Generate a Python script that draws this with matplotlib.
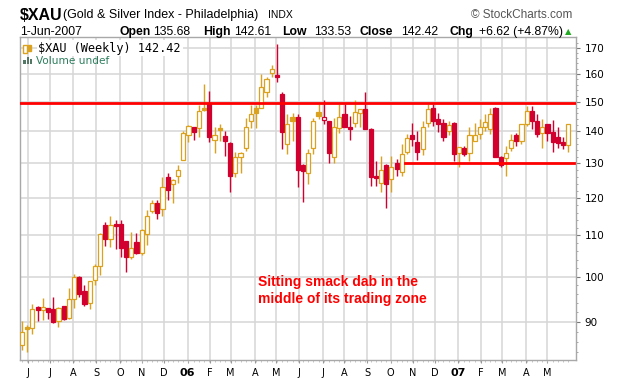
import numpy as np
import pandas as pd
import matplotlib
matplotlib.use("Agg")
import matplotlib.pyplot as plt
from matplotlib.patches import Rectangle
from matplotlib.ticker import FixedLocator, NullFormatter

# weekly bars, $XAU, week ending Friday
weeks = pd.date_range("2005-05-27", periods=106, freq="W-FRI")

opens = [85.3, 89.0, 88.8, 93.2, 92.6, 92.9, 92.7, 90.1, 93.3, 90.9,
         95.0, 100.0, 96.6, 94.0, 99.1, 102.5, 112.6, 109.2, 113.0, 113.0,
         108.5, 104.6, 108.3, 105.6, 110.4, 116.4, 118.6, 117.0, 125.9, 124.0,
         126.3, 131.1, 138.7, 141.5, 141.2, 147.8, 149.4, 137.3, 141.2, 138.6,
         136.4, 127.1, 132.0, 134.7, 143.3, 147.8, 148.0, 153.3, 160.2, 159.7,
         152.7, 136.0, 144.9, 144.9, 129.6, 127.1, 134.7, 146.6, 143.7, 143.3,
         132.0, 141.2, 145.8, 141.3, 142.9, 146.0, 147.5, 140.9, 126.4, 124.1,
         129.6, 125.4, 130.0, 127.4, 133.6, 139.0, 136.7, 134.4, 142.9, 148.0,
         144.1, 142.9, 140.3, 142.9, 133.1, 134.6, 133.2, 137.1, 139.2, 141.4,
         140.8, 148.0, 132.1, 131.6, 134.7, 138.8, 136.8, 142.5, 146.9, 143.3,
         139.4, 142.4, 139.7, 138.1, 136.6, 135.68]
highs = [90.1, 89.3, 93.9, 93.3, 95.2, 92.9, 95.3, 93.2, 93.4, 97.4,
         100.7, 100.2, 98.0, 99.0, 102.9, 110.6, 113.4, 115.2, 114.1, 114.1,
         108.5, 110.8, 110.7, 111.6, 116.7, 119.3, 119.5, 126.1, 127.1, 125.3,
         129.6, 140.3, 142.0, 141.6, 148.9, 156.4, 153.9, 141.4, 142.5, 140.3,
         136.5, 133.4, 133.4, 144.4, 148.9, 148.9, 159.8, 158.7, 163.3, 171.4,
         153.3, 145.8, 146.0, 145.8, 129.7, 134.4, 144.5, 149.1, 150.7, 143.5,
         144.4, 149.2, 149.2, 145.1, 150.6, 147.6, 153.3, 141.0, 130.6, 132.4,
         129.7, 132.4, 131.4, 136.0, 139.2, 142.9, 140.3, 143.5, 149.2, 149.2,
         146.0, 144.1, 143.3, 143.0, 135.1, 135.5, 141.4, 142.7, 144.1, 145.9,
         148.0, 148.1, 132.4, 135.5, 139.2, 139.4, 142.6, 148.6, 148.6, 145.9,
         144.1, 142.5, 143.7, 141.3, 138.1, 142.61]
lows = [84.3, 84.0, 87.6, 90.2, 90.5, 90.7, 89.8, 89.0, 90.4, 90.7,
        93.0, 95.3, 93.3, 92.7, 98.0, 100.3, 107.4, 107.2, 106.7, 104.6,
        101.0, 104.2, 105.3, 105.2, 107.5, 115.8, 114.3, 115.2, 119.5, 118.5,
        124.1, 130.9, 136.5, 137.3, 138.1, 146.9, 136.5, 133.1, 137.0, 132.4,
        121.6, 125.9, 127.1, 133.7, 141.2, 141.2, 147.8, 151.5, 158.7, 156.9,
        134.4, 132.9, 137.0, 123.2, 118.8, 123.8, 132.9, 144.1, 142.5, 130.1,
        130.1, 139.4, 141.5, 137.4, 141.4, 141.4, 140.8, 123.5, 123.4, 121.6,
        117.3, 121.6, 126.4, 126.4, 132.9, 135.4, 130.9, 132.7, 141.4, 141.8,
        139.7, 136.8, 138.7, 130.8, 128.8, 132.4, 130.6, 136.9, 137.6, 140.3,
        139.2, 131.8, 128.8, 126.4, 133.7, 135.5, 136.0, 141.8, 140.8, 138.1,
        134.6, 137.0, 133.6, 134.8, 134.4, 133.53]
closes = [87.9, 88.6, 92.8, 92.6, 93.2, 92.1, 90.0, 93.0, 90.7, 95.0,
          100.0, 96.1, 93.8, 98.9, 102.5, 110.4, 109.2, 112.8, 112.5, 106.8,
          104.6, 106.9, 105.6, 111.4, 115.2, 118.6, 115.8, 123.0, 122.3, 125.2,
          127.9, 139.5, 141.8, 139.7, 146.9, 147.2, 138.1, 138.9, 140.5, 136.8,
          126.4, 131.8, 133.3, 141.6, 145.8, 146.1, 155.1, 158.1, 161.8, 158.9,
          139.7, 142.4, 143.3, 128.0, 127.6, 133.3, 143.5, 145.0, 144.9, 133.1,
          141.4, 144.9, 141.6, 140.8, 146.3, 147.5, 140.9, 126.1, 125.7, 128.1,
          123.8, 129.0, 128.2, 132.9, 137.8, 137.5, 133.6, 141.3, 147.5, 143.5,
          142.6, 138.3, 142.0, 132.9, 134.9, 132.9, 138.7, 138.9, 141.6, 143.2,
          145.8, 132.1, 129.6, 133.1, 137.4, 136.8, 142.5, 146.9, 143.3, 139.2,
          141.6, 139.4, 136.5, 136.4, 135.8, 142.42]

price_ticks = [90, 100, 110, 120, 130, 140, 150, 160, 170]
resistance = 149.5
support = 130.0

GOLD = "#DAA21E"
RED = "#D2002F"
GRID = "#d6d6d6"

W, H = 620, 379
fig = plt.figure(figsize=(W / 100, H / 100), dpi=100)
ax = fig.add_axes([20 / W, 1 - 360 / H, 556 / W, 323 / H])
ax.set_yscale("log")
ax.set_xlim(-0.385, 106.48)
ax.set_ylim(82.4, 174.3)

# month grid / labels
months = pd.date_range("2005-06-01", "2007-05-31", freq="BMS")
mpos = [(m - weeks[0]).days / 7 + 0.4 for m in months]
mlab = [m.strftime("%y") if m.month == 1 else m.strftime("%b")[0] for m in months]
for p in mpos:
    ax.axvline(p, color=GRID, lw=1.1, zorder=0)
for v in price_ticks:
    ax.axhline(v, color=GRID, lw=1.1, zorder=0)

# candles
prev = [opens[0]] + closes[:-1]
bw = 0.8
for i in range(len(closes)):
    o, h, l, c = opens[i], highs[i], lows[i], closes[i]
    col = RED if c < prev[i] else GOLD
    lo_b, hi_b = min(o, c), max(o, c)
    ax.vlines(i, l, h, color=col, lw=1.0, zorder=2)
    ax.add_patch(Rectangle((i - bw / 2, lo_b), bw, hi_b - lo_b,
                           facecolor=col if c < o else "white",
                           edgecolor=col, lw=0.9, zorder=3))

# trading zone lines
ax.axhline(resistance, color="#ff0000", lw=2.0, zorder=4)
ax.plot([73.7, 106.0], [support, support], color="#ff0000", lw=2.0, zorder=4)

ax.text(0.428, 0.215, "Sitting smack dab in the\nmiddle of its trading zone",
        transform=ax.transAxes, color="#ff0000", fontsize=10, fontweight="bold",
        family="Liberation Sans", va="center", ha="left", linespacing=1.3)

# axes styling
for s in ax.spines.values():
    s.set_color("#a8a8a8")
    s.set_linewidth(1.0)
ax.yaxis.tick_right()
ax.yaxis.set_major_locator(FixedLocator(price_ticks))
ax.yaxis.set_minor_locator(FixedLocator(np.arange(84, 174, 2)))
ax.yaxis.set_major_formatter(plt.FuncFormatter(lambda v, _: f"{v:.0f}"))
ax.yaxis.set_minor_formatter(NullFormatter())
ax.tick_params(axis="y", which="major", length=3, color="#777777",
               labelsize=7.5, pad=3)
ax.tick_params(axis="y", which="minor", length=1.5, color="#999999")

ax.xaxis.set_major_locator(FixedLocator(mpos))
ax.xaxis.set_minor_locator(FixedLocator(np.arange(0, 106)))
ax.set_xticklabels(mlab)
ax.tick_params(axis="x", which="major", length=2, color="#999999",
               labelsize=7, pad=4)
ax.tick_params(axis="x", which="minor", length=1.2, color="#bbbbbb")
for t, lab in zip(ax.get_xticklabels(), mlab):
    if lab.isdigit():
        t.set_fontweight("bold")
        t.set_fontsize(8)

# legend block inside the plot
ax.text(0.033, 0.965, "$XAU (Weekly) 142.42", transform=ax.transAxes,
        family="DejaVu Sans Mono", fontsize=8.6, va="center", ha="left",
        bbox=dict(facecolor="white", edgecolor="none", pad=1.2), zorder=6)
ax.text(0.029, 0.925, "Volume undef", transform=ax.transAxes,
        fontsize=7.6, color="#2f7f5f", va="center", ha="left", zorder=6)
ax.add_patch(Rectangle((0.006, 0.952), 0.006, 0.024, transform=ax.transAxes,
                       facecolor="white", edgecolor=GOLD, lw=1, zorder=7))
ax.add_patch(Rectangle((0.014, 0.956), 0.006, 0.02, transform=ax.transAxes,
                       facecolor=GOLD, edgecolor=GOLD, lw=1, zorder=7))
for k, hgt in enumerate([0.014, 0.022, 0.018]):
    ax.add_patch(Rectangle((0.006 + k * 0.006, 0.915), 0.004, hgt,
                           transform=ax.transAxes, facecolor="#557766",
                           edgecolor="none", zorder=7))

# header
def px(x, y):
    return x / W, 1 - y / H

fig.text(*px(20, 15), "$XAU", fontsize=11.5, fontweight="bold",
         family="Liberation Sans", va="center")
fig.text(*px(63, 15), "(Gold & Silver Index - Philadelphia)", fontsize=9,
         family="Liberation Sans", va="center")
fig.text(*px(268, 15), "INDX", fontsize=7.5, family="Liberation Sans", va="center")
fig.text(*px(471, 15), "\u00a9 StockCharts.com", fontsize=8.5, color="#555555",
         family="Liberation Sans", va="center")

row = [(20, "1-Jun-2007", False), (119, "Open", True), (153, "135.68", False),
       (203, "High", True), (234, "142.61", False), (282, "Low", True),
       (314, "133.53", False), (360, "Close", True), (401, "142.42", False),
       (449, "Chg", True), (479, "+6.62 (+4.87%)", False)]
for x0, s, b in row:
    fig.text(*px(x0, 32), s, fontsize=8.8, family="Liberation Sans",
             fontweight="bold" if b else "normal", va="center")
fig.text(*px(565, 32), "\u25b2", fontsize=6, color="#22aa22", va="center")

fig.savefig("out.png", dpi=100, facecolor="white")
